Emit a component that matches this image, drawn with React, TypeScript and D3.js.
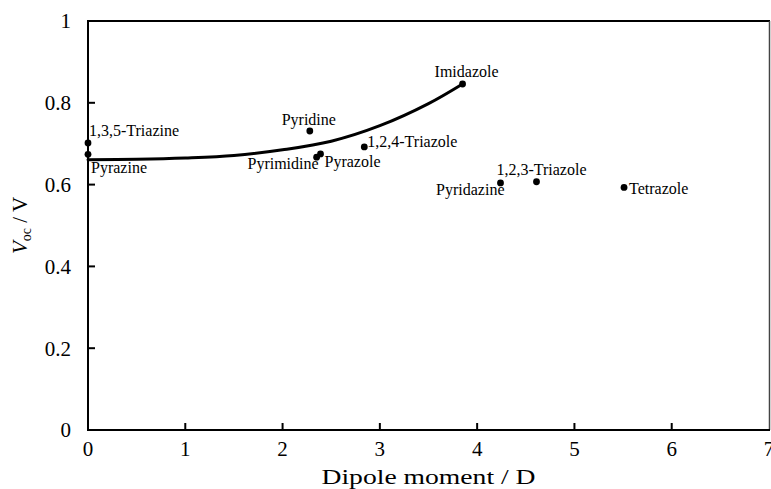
import * as d3 from 'd3'

const WIDTH = 771
const HEIGHT = 489
const MARGIN = { top: 21, right: 1, bottom: 59, left: 88 }
const FONT = "'Liberation Serif', 'Times New Roman', Times, serif"

// measured points: dipole moment (D) vs Voc (V)
const NAMES = [
  '1,3,5-Triazine',
  'Pyrazine',
  'Pyridine',
  'Pyrimidine',
  'Pyrazole',
  '1,2,4-Triazole',
  'Imidazole',
  'Pyridazine',
  '1,2,3-Triazole',
  'Tetrazole',
]
const DIPOLE = [0, 0, 2.28, 2.35, 2.39, 2.84, 3.85, 4.24, 4.61, 5.51]
const VOC = [0.702, 0.674, 0.731, 0.667, 0.675, 0.692, 0.846, 0.604, 0.607, 0.593]

// trend line
const TREND_X = [0, 0.5, 1, 1.5, 2, 2.5, 3, 3.5, 3.85]
const TREND_Y = [0.661, 0.662, 0.665, 0.671, 0.685, 0.706, 0.744, 0.798, 0.846]

const X_TICKS = [0, 1, 2, 3, 4, 5, 6, 7]
const Y_TICKS = [0, 0.2, 0.4, 0.6, 0.8, 1]

// label placement next to each point
const LABEL_POS = {
  '1,3,5-Triazine': { dx: 1, dy: -7, anchor: 'start' },
  Pyrazine: { dx: 3, dy: 19, anchor: 'start' },
  Pyridine: { dx: -1, dy: -6, anchor: 'middle' },
  Pyrimidine: { dx: 2, dy: 12, anchor: 'end' },
  Pyrazole: { dx: 4, dy: 13, anchor: 'start' },
  '1,2,4-Triazole': { dx: 3, dy: 0, anchor: 'start' },
  Imidazole: { dx: 4, dy: -7, anchor: 'middle' },
  Pyridazine: { dx: 4, dy: 12, anchor: 'end' },
  '1,2,3-Triazole': { dx: 5, dy: -7, anchor: 'middle' },
  Tetrazole: { dx: 5, dy: 7, anchor: 'start' },
}

const App = () => {
  const x0 = MARGIN.left
  const x1 = WIDTH - MARGIN.right
  const y0 = HEIGHT - MARGIN.bottom
  const y1 = MARGIN.top

  const xScale = d3.scaleLinear().domain([0, 7]).range([x0, x1 - 1])
  const yScale = d3.scaleLinear().domain([0, 1]).range([y0, y1])

  const trend = d3
    .line<number>()
    .x((_, i) => xScale(TREND_X[i]))
    .y((d) => yScale(d))
    .curve(d3.curveCatmullRom)(TREND_Y)

  const textStyle = { fontFamily: FONT }

  return (
    <svg
      width={WIDTH}
      height={HEIGHT}
      style={{ position: 'absolute', left: 0, top: 0, background: '#fff', fontFamily: FONT }}
    >
      {/* frame */}
      <line x1={x0} x2={x1} y1={y1} y2={y1} stroke="#000" strokeWidth={2} />
      <line x1={x1 - 0.5} x2={x1 - 0.5} y1={y1} y2={y0} stroke="#444" strokeWidth={1.5} />
      <line x1={x0} x2={x1} y1={y0} y2={y0} stroke="#000" strokeWidth={2} />
      <line x1={x0} x2={x0} y1={y1 - 1} y2={y0 + 1} stroke="#000" strokeWidth={2} />

      {/* y ticks */}
      {Y_TICKS.map((t) => (
        <g key={`y${t}`}>
          {t > 0 && t < 1 && (
            <line x1={x0} x2={x0 + 7} y1={yScale(t)} y2={yScale(t)} stroke="#000" strokeWidth={2} />
          )}
          <text x={x0 - 17} y={yScale(t)} dy="0.35em" textAnchor="end" fontSize={21} style={textStyle}>
            {t}
          </text>
        </g>
      ))}

      {/* x ticks */}
      {X_TICKS.map((t) => (
        <g key={`x${t}`}>
          {t > 0 && t < 7 && (
            <line x1={xScale(t)} x2={xScale(t)} y1={y0} y2={y0 - 7} stroke="#000" strokeWidth={2} />
          )}
          <text x={xScale(t)} y={y0 + 26} textAnchor="middle" fontSize={21} style={textStyle}>
            {t}
          </text>
        </g>
      ))}

      {/* axis titles */}
      <text
        x={xScale(3.5)}
        y={484}
        textAnchor="middle"
        fontSize={22}
        textLength={214}
        lengthAdjust="spacingAndGlyphs"
        style={textStyle}
      >
        Dipole moment / D
      </text>
      <text
        transform={`translate(27,${(y0 + y1) / 2}) rotate(-90)`}
        textAnchor="middle"
        fontSize={21}
        style={textStyle}
      >
        <tspan fontStyle="italic">V</tspan>
        <tspan fontSize={14} dy={4}>oc</tspan>
        <tspan dy={-4}> / V</tspan>
      </text>

      {/* trend line */}
      <path d={trend ?? ''} fill="none" stroke="#000" strokeWidth={3} strokeLinecap="round" />

      {/* points */}
      {NAMES.map((name, i) => {
        const px = xScale(DIPOLE[i])
        const py = yScale(VOC[i])
        const pos = LABEL_POS[name]
        return (
          <g key={name}>
            <circle cx={px} cy={py} r={3.4} fill="#000" />
            <text
              x={px + pos.dx}
              y={py + pos.dy}
              textAnchor={pos.anchor}
              fontSize={16}
              style={textStyle}
            >
              {name}
            </text>
          </g>
        )
      })}
    </svg>
  )
}

export default App
